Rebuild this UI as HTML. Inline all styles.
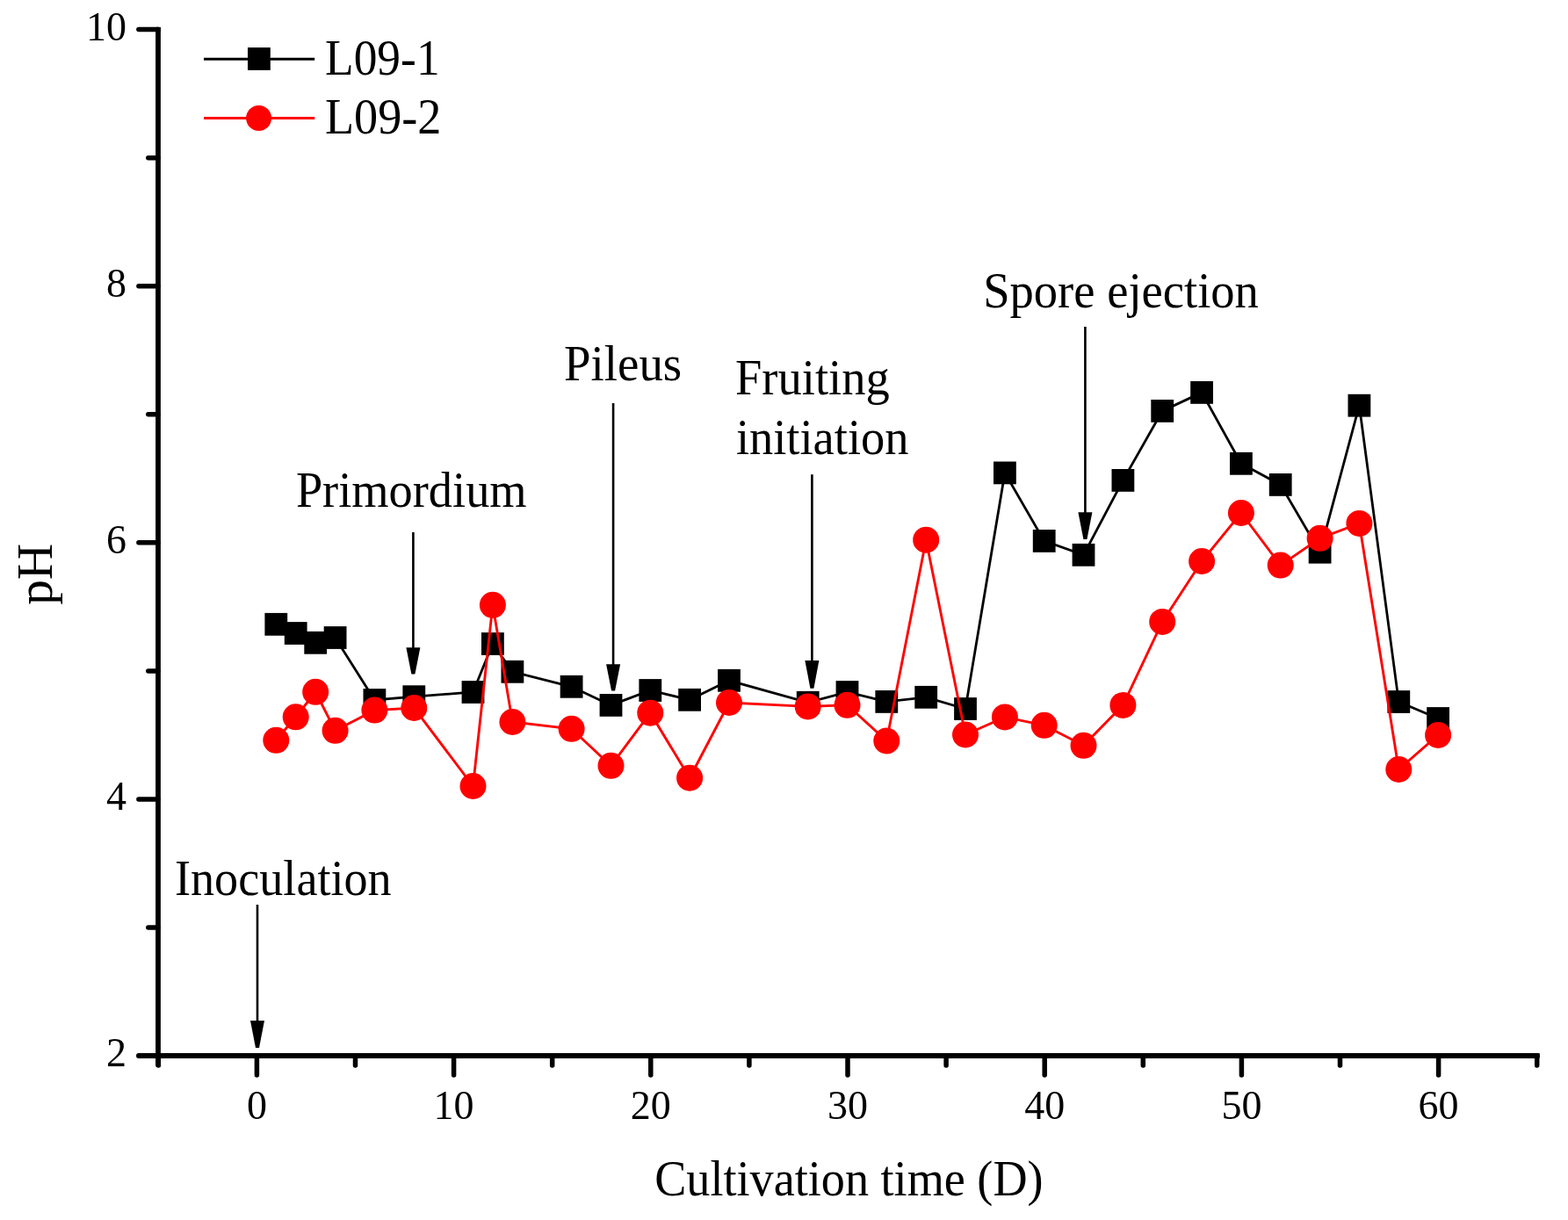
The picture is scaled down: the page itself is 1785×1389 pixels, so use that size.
<!DOCTYPE html><html><head><meta charset="utf-8"><style>html,body{margin:0;padding:0;background:#fff;}svg{display:block;}text{font-family:"Liberation Serif","Times New Roman",serif;fill:#000;}</style></head><body>
<svg width="1785" height="1389" viewBox="0 0 1785 1389">
<rect width="1785" height="1389" fill="#fff"/>
<g stroke="#000" fill="none" stroke-linecap="round">
<line x1="180" y1="33.6" x2="180" y2="1212.2" stroke-width="5.8"/>
<line x1="157.9" y1="1202" x2="1749.8" y2="1202" stroke-width="5.8"/>
<rect x="177.1" y="30.9" width="5.8" height="5" fill="#000" stroke="none"/>
<rect x="1746.9" y="1199.1" width="5.8" height="5.8" fill="#000" stroke="none"/>
<line x1="157.9" y1="33.6" x2="180" y2="33.6" stroke-width="5.5"/>
<line x1="157.9" y1="325.7" x2="180" y2="325.7" stroke-width="5.5"/>
<line x1="157.9" y1="617.8" x2="180" y2="617.8" stroke-width="5.5"/>
<line x1="157.9" y1="909.9" x2="180" y2="909.9" stroke-width="5.5"/>
<line x1="168.8" y1="179.7" x2="180" y2="179.7" stroke-width="5.5"/>
<line x1="168.8" y1="471.8" x2="180" y2="471.8" stroke-width="5.5"/>
<line x1="168.8" y1="763.9" x2="180" y2="763.9" stroke-width="5.5"/>
<line x1="168.8" y1="1056.0" x2="180" y2="1056.0" stroke-width="5.5"/>
<line x1="292.4" y1="1202" x2="292.4" y2="1224" stroke-width="5.5"/>
<line x1="516.6" y1="1202" x2="516.6" y2="1224" stroke-width="5.5"/>
<line x1="740.8" y1="1202" x2="740.8" y2="1224" stroke-width="5.5"/>
<line x1="965.0" y1="1202" x2="965.0" y2="1224" stroke-width="5.5"/>
<line x1="1189.2" y1="1202" x2="1189.2" y2="1224" stroke-width="5.5"/>
<line x1="1413.4" y1="1202" x2="1413.4" y2="1224" stroke-width="5.5"/>
<line x1="1637.6" y1="1202" x2="1637.6" y2="1224" stroke-width="5.5"/>
<line x1="180.3" y1="1202" x2="180.3" y2="1213" stroke-width="5.5"/>
<line x1="404.5" y1="1202" x2="404.5" y2="1213" stroke-width="5.5"/>
<line x1="628.7" y1="1202" x2="628.7" y2="1213" stroke-width="5.5"/>
<line x1="852.9" y1="1202" x2="852.9" y2="1213" stroke-width="5.5"/>
<line x1="1077.1" y1="1202" x2="1077.1" y2="1213" stroke-width="5.5"/>
<line x1="1301.3" y1="1202" x2="1301.3" y2="1213" stroke-width="5.5"/>
<line x1="1525.5" y1="1202" x2="1525.5" y2="1213" stroke-width="5.5"/>
<line x1="1749.7" y1="1202" x2="1749.7" y2="1213" stroke-width="5.5"/>
</g>
<g font-size="46">
<text x="144" y="45.6" text-anchor="end">10</text>
<text x="144" y="337.7" text-anchor="end">8</text>
<text x="144" y="629.8" text-anchor="end">6</text>
<text x="144" y="921.9" text-anchor="end">4</text>
<text x="144" y="1214.0" text-anchor="end">2</text>
<text x="292.4" y="1273.5" text-anchor="middle">0</text>
<text x="516.6" y="1273.5" text-anchor="middle">10</text>
<text x="740.8" y="1273.5" text-anchor="middle">20</text>
<text x="965.0" y="1273.5" text-anchor="middle">30</text>
<text x="1189.2" y="1273.5" text-anchor="middle">40</text>
<text x="1413.4" y="1273.5" text-anchor="middle">50</text>
<text x="1637.6" y="1273.5" text-anchor="middle">60</text>
</g>
<text x="745.2" y="1361" font-size="56.4" textLength="442.4" lengthAdjust="spacingAndGlyphs">Cultivation time (D)</text>
<text font-size="56.4" textLength="69.9" lengthAdjust="spacingAndGlyphs" transform="translate(59.1 688.8) rotate(-90)">pH</text>
<text x="199.0" y="1018.7" font-size="56.4" textLength="246.7" lengthAdjust="spacingAndGlyphs">Inoculation</text>
<text x="336.9" y="577.1" font-size="56.4" textLength="262.7" lengthAdjust="spacingAndGlyphs">Primordium</text>
<text x="642.0" y="432.9" font-size="56.4" textLength="134.2" lengthAdjust="spacingAndGlyphs">Pileus</text>
<text x="837.0" y="449" font-size="56.4" textLength="175.7" lengthAdjust="spacingAndGlyphs">Fruiting</text>
<text x="837.9" y="517" font-size="56.4" textLength="196.6" lengthAdjust="spacingAndGlyphs">initiation</text>
<text x="1119.2" y="349.8" font-size="56.4" textLength="313.7" lengthAdjust="spacingAndGlyphs">Spore ejection</text>
<g>
<line x1="293" y1="1030" x2="293" y2="1164" stroke="#000" stroke-width="2.6"/>
<polygon points="285.0,1162 301.0,1162 295.0,1193 291.0,1193" fill="#000"/>
<line x1="470.4" y1="606" x2="470.4" y2="739.3" stroke="#000" stroke-width="2.6"/>
<polygon points="462.4,737.3 478.4,737.3 472.4,767.6 468.4,767.6" fill="#000"/>
<line x1="698.1" y1="459" x2="698.1" y2="758.3" stroke="#000" stroke-width="2.6"/>
<polygon points="690.1,756.3 706.1,756.3 700.1,786.6 696.1,786.6" fill="#000"/>
<line x1="924.4" y1="540.2" x2="924.4" y2="754.1" stroke="#000" stroke-width="2.6"/>
<polygon points="916.4,752.1 932.4,752.1 926.4,783.7 922.4,783.7" fill="#000"/>
<line x1="1235.4" y1="372" x2="1235.4" y2="585.2" stroke="#000" stroke-width="2.6"/>
<polygon points="1227.4,583.2 1243.4,583.2 1237.4,613.9 1233.4,613.9" fill="#000"/>
</g>
<polyline points="314.3,710.8 336.7,721.0 359.2,731.8 381.6,726.0 426.4,797.0 471.3,793.2 538.5,788.0 560.9,733.0 583.4,764.8 650.6,781.8 695.5,802.9 740.3,786.0 785.1,796.8 830.0,774.8 919.7,799.8 964.5,788.0 1009.3,798.9 1054.2,793.8 1099.0,807.0 1143.9,538.4 1188.7,615.9 1233.5,631.8 1278.4,546.9 1323.2,467.9 1368.1,446.9 1412.9,527.8 1457.7,551.9 1502.6,628.7 1547.4,461.7 1592.3,799.0 1637.1,818.0" fill="none" stroke="#000" stroke-width="2.8" stroke-linejoin="miter"/>
<g fill="#000">
<rect x="301.4" y="697.9" width="25.8" height="25.8"/>
<rect x="323.8" y="708.1" width="25.8" height="25.8"/>
<rect x="346.3" y="718.9" width="25.8" height="25.8"/>
<rect x="368.7" y="713.1" width="25.8" height="25.8"/>
<rect x="413.5" y="784.1" width="25.8" height="25.8"/>
<rect x="458.4" y="780.3" width="25.8" height="25.8"/>
<rect x="525.6" y="775.1" width="25.8" height="25.8"/>
<rect x="548.0" y="720.1" width="25.8" height="25.8"/>
<rect x="570.5" y="751.9" width="25.8" height="25.8"/>
<rect x="637.7" y="768.9" width="25.8" height="25.8"/>
<rect x="682.6" y="790.0" width="25.8" height="25.8"/>
<rect x="727.4" y="773.1" width="25.8" height="25.8"/>
<rect x="772.2" y="783.9" width="25.8" height="25.8"/>
<rect x="817.1" y="761.9" width="25.8" height="25.8"/>
<rect x="906.8" y="786.9" width="25.8" height="25.8"/>
<rect x="951.6" y="775.1" width="25.8" height="25.8"/>
<rect x="996.4" y="786.0" width="25.8" height="25.8"/>
<rect x="1041.3" y="780.9" width="25.8" height="25.8"/>
<rect x="1086.1" y="794.1" width="25.8" height="25.8"/>
<rect x="1131.0" y="525.5" width="25.8" height="25.8"/>
<rect x="1175.8" y="603.0" width="25.8" height="25.8"/>
<rect x="1220.6" y="618.9" width="25.8" height="25.8"/>
<rect x="1265.5" y="534.0" width="25.8" height="25.8"/>
<rect x="1310.3" y="455.0" width="25.8" height="25.8"/>
<rect x="1355.2" y="434.0" width="25.8" height="25.8"/>
<rect x="1400.0" y="514.9" width="25.8" height="25.8"/>
<rect x="1444.8" y="539.0" width="25.8" height="25.8"/>
<rect x="1489.7" y="615.8" width="25.8" height="25.8"/>
<rect x="1534.5" y="448.8" width="25.8" height="25.8"/>
<rect x="1579.4" y="786.1" width="25.8" height="25.8"/>
<rect x="1624.2" y="805.1" width="25.8" height="25.8"/>
</g>
<polyline points="314.3,842.8 336.7,816.3 359.2,787.8 381.6,831.8 426.4,808.6 471.3,806.0 538.5,895.0 560.9,688.8 583.4,822.0 650.6,829.8 695.5,871.8 740.3,811.7 785.1,885.7 830.0,800.0 919.7,804.4 964.5,802.8 1009.3,843.5 1054.2,614.7 1099.0,836.5 1143.9,816.4 1188.7,825.8 1233.5,848.8 1278.4,802.9 1323.2,707.9 1368.1,639.0 1412.9,584.0 1457.7,643.6 1502.6,612.8 1547.4,595.9 1592.3,876.0 1637.1,836.9" fill="none" stroke="#f00" stroke-width="2.9" stroke-linejoin="miter"/>
<g fill="#f00">
<circle cx="314.3" cy="842.8" r="15"/>
<circle cx="336.7" cy="816.3" r="15"/>
<circle cx="359.2" cy="787.8" r="15"/>
<circle cx="381.6" cy="831.8" r="15"/>
<circle cx="426.4" cy="808.6" r="15"/>
<circle cx="471.3" cy="806.0" r="15"/>
<circle cx="538.5" cy="895.0" r="15"/>
<circle cx="560.9" cy="688.8" r="15"/>
<circle cx="583.4" cy="822.0" r="15"/>
<circle cx="650.6" cy="829.8" r="15"/>
<circle cx="695.5" cy="871.8" r="15"/>
<circle cx="740.3" cy="811.7" r="15"/>
<circle cx="785.1" cy="885.7" r="15"/>
<circle cx="830.0" cy="800.0" r="15"/>
<circle cx="919.7" cy="804.4" r="15"/>
<circle cx="964.5" cy="802.8" r="15"/>
<circle cx="1009.3" cy="843.5" r="15"/>
<circle cx="1054.2" cy="614.7" r="15"/>
<circle cx="1099.0" cy="836.5" r="15"/>
<circle cx="1143.9" cy="816.4" r="15"/>
<circle cx="1188.7" cy="825.8" r="15"/>
<circle cx="1233.5" cy="848.8" r="15"/>
<circle cx="1278.4" cy="802.9" r="15"/>
<circle cx="1323.2" cy="707.9" r="15"/>
<circle cx="1368.1" cy="639.0" r="15"/>
<circle cx="1412.9" cy="584.0" r="15"/>
<circle cx="1457.7" cy="643.6" r="15"/>
<circle cx="1502.6" cy="612.8" r="15"/>
<circle cx="1547.4" cy="595.9" r="15"/>
<circle cx="1592.3" cy="876.0" r="15"/>
<circle cx="1637.1" cy="836.9" r="15"/>
</g>
<line x1="232" y1="67.3" x2="358.2" y2="67.3" stroke="#000" stroke-width="3"/>
<rect x="282" y="54.1" width="25.8" height="25.8" fill="#000"/>
<line x1="232" y1="134.5" x2="358.2" y2="134.5" stroke="#f00" stroke-width="3"/>
<circle cx="294.6" cy="134.4" r="14.5" fill="#f00"/>
<text x="370.0" y="84.9" font-size="56.4" textLength="130.6" lengthAdjust="spacingAndGlyphs">L09-1</text>
<text x="369.9" y="152.2" font-size="56.4" textLength="132.6" lengthAdjust="spacingAndGlyphs">L09-2</text>
</svg></body></html>
